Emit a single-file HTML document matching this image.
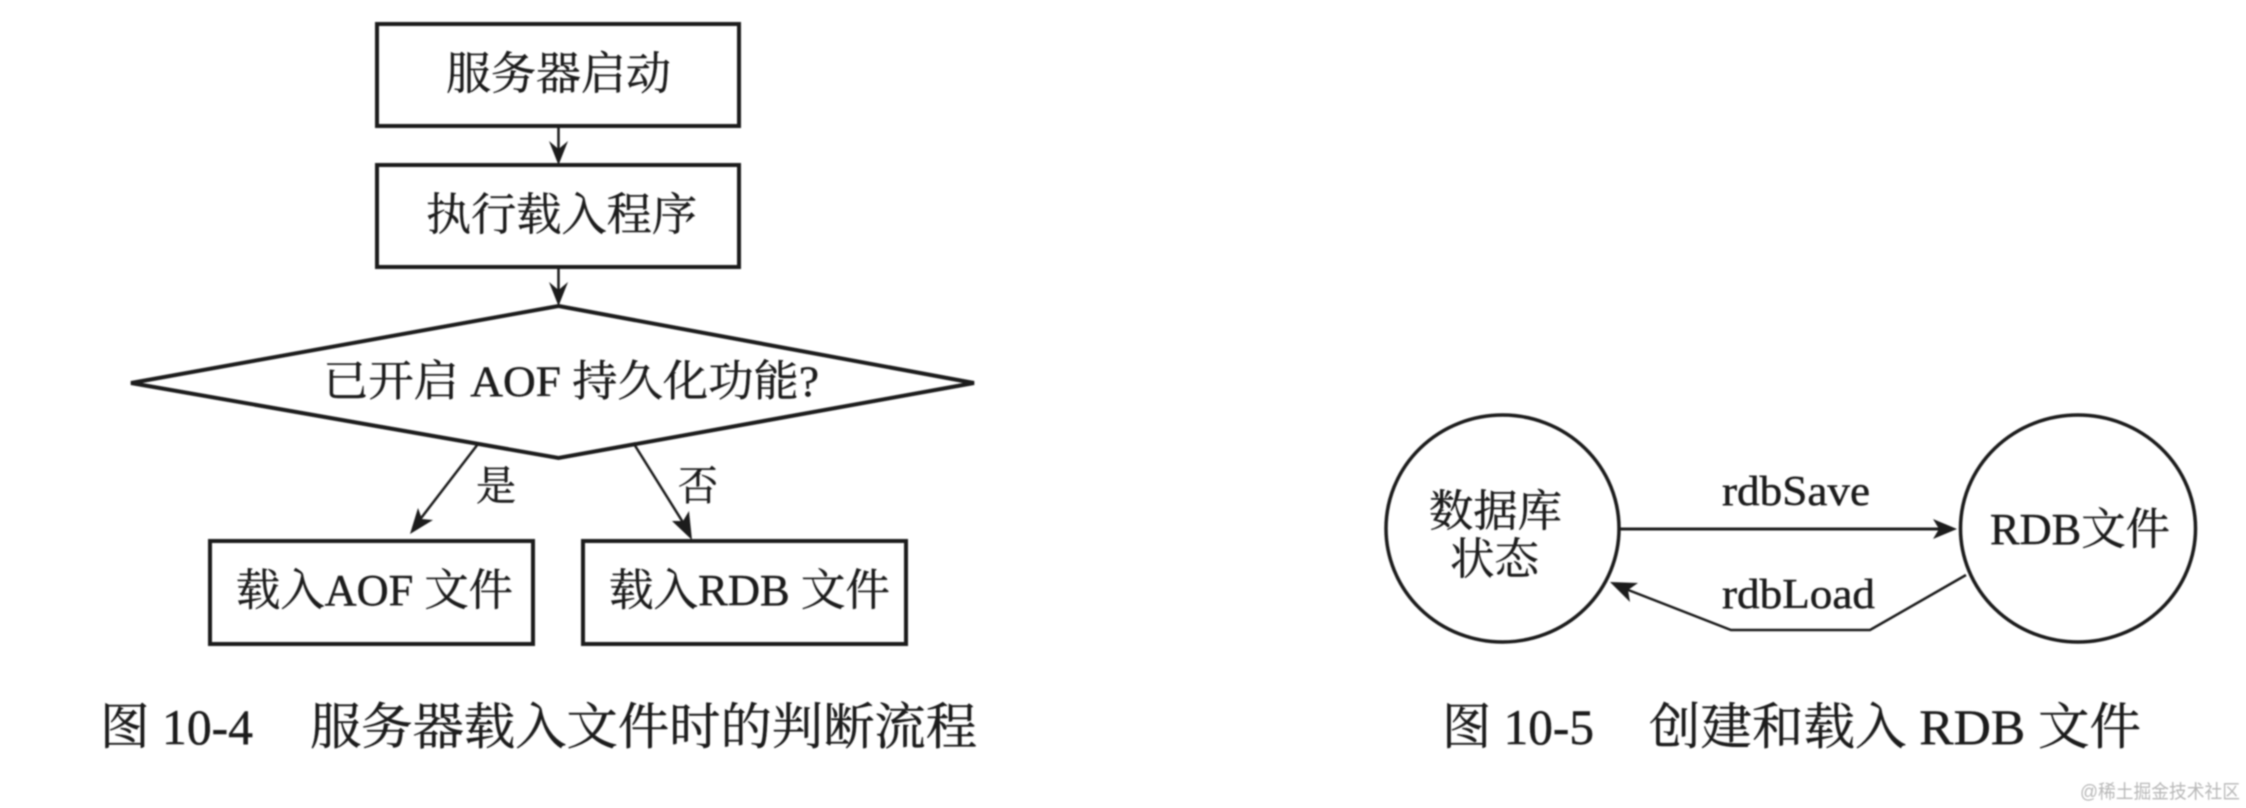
<!DOCTYPE html>
<html lang="zh">
<head>
<meta charset="utf-8">
<style>
html,body{margin:0;padding:0;background:#fff;width:2246px;height:808px;overflow:hidden}
svg{display:block}
text{font-family:"Liberation Serif","Noto Serif CJK SC",serif;fill:#1c1c1c;font-size:45px;stroke:#1c1c1c;stroke-width:.45px}
.s{fill:none;stroke:#1a1a1a}
.a{fill:#1a1a1a;stroke:none}
</style>
</head>
<body>
<svg width="2246" height="808" viewBox="0 0 2246 808" xmlns="http://www.w3.org/2000/svg">
<defs>
<filter id="b" x="-2%" y="-2%" width="104%" height="104%"><feGaussianBlur stdDeviation="0.9"/></filter>
<filter id="c" x="-5%" y="-20%" width="110%" height="140%"><feGaussianBlur stdDeviation="0.7"/></filter>
</defs>
<rect width="2246" height="808" fill="#fff"/>
<g filter="url(#b)">
<!-- flowchart shapes -->
<g transform="translate(-3,0)">
<rect class="s" stroke-width="4" x="380" y="24" width="362" height="102"/>
<rect class="s" stroke-width="4" x="380" y="165" width="362" height="102"/>
<polygon class="s" stroke-width="4" points="561.5,306 977,383 561.5,458 134,383"/>
<rect class="s" stroke-width="4" x="213" y="541" width="323" height="103"/>
<rect class="s" stroke-width="4" x="586" y="541" width="323" height="103"/>
<!-- flowchart arrows -->
<line class="s" stroke-width="2.5" x1="561.5" y1="126" x2="561.5" y2="160"/>
<polygon class="a" points="561.5,165 552,141 561.5,149 571,141"/>
<line class="s" stroke-width="2.5" x1="561.5" y1="267" x2="561.5" y2="301"/>
<polygon class="a" points="561.5,306 552,282 561.5,290 571,282"/>
<line class="s" stroke-width="2.5" x1="481" y1="444" x2="418" y2="526"/>
<polygon class="a" points="413,534 421,508 425,519 436,520"/>
<line class="s" stroke-width="2.5" x1="637" y1="444" x2="692" y2="532"/>
<polygon class="a" points="695,540 675,521 686,521 692,511"/>
</g>
<!-- flowchart labels -->
<text x="446" y="89" textLength="225" lengthAdjust="spacingAndGlyphs">服务器启动</text>
<text x="426" y="230" textLength="271" lengthAdjust="spacingAndGlyphs">执行载入程序</text>
<text x="323" y="396" textLength="496" lengthAdjust="spacingAndGlyphs" style="font-size:43px">已开启 AOF 持久化功能?</text>
<text x="476" y="500" textLength="40" lengthAdjust="spacingAndGlyphs" style="font-size:41px">是</text>
<text x="678" y="500" textLength="40" lengthAdjust="spacingAndGlyphs" style="font-size:41px">否</text>
<text x="236" y="605" textLength="277" lengthAdjust="spacingAndGlyphs" style="font-size:44px">载入AOF 文件</text>
<text x="609" y="605" textLength="281" lengthAdjust="spacingAndGlyphs" style="font-size:44px">载入RDB 文件</text>
<text x="100" y="744" textLength="153" lengthAdjust="spacingAndGlyphs" style="font-size:50px">图 10-4</text>
<text x="310" y="744" textLength="667" lengthAdjust="spacingAndGlyphs" style="font-size:50px">服务器载入文件时的判断流程</text>
<!-- right diagram -->
<ellipse class="s" stroke-width="3.5" cx="1502.5" cy="528.5" rx="116.5" ry="113.5"/>
<ellipse class="s" stroke-width="3.5" cx="2078" cy="528.5" rx="117.5" ry="113.5"/>
<line class="s" stroke-width="3" x1="1620" y1="529" x2="1950" y2="529"/>
<polygon class="a" points="1957,529 1933,519 1939,529 1933,539"/>
<polyline class="s" stroke-width="2.5" points="1966,575 1870,630 1731,630 1618,586"/>
<polygon class="a" points="1610,582 1638,583 1628,590 1630,602"/>
<text x="1722" y="505" textLength="148" lengthAdjust="spacingAndGlyphs" style="font-size:42px">rdbSave</text>
<text x="1722" y="608" textLength="153" lengthAdjust="spacingAndGlyphs" style="font-size:42px">rdbLoad</text>
<text x="1429" y="526" textLength="133" lengthAdjust="spacingAndGlyphs" style="font-size:44px">数据库</text>
<text x="1450" y="574" textLength="89" lengthAdjust="spacingAndGlyphs" style="font-size:44px">状态</text>
<text x="1990" y="544" textLength="180" lengthAdjust="spacingAndGlyphs" style="font-size:44px">RDB文件</text>
<text x="1442" y="744" textLength="152" lengthAdjust="spacingAndGlyphs" style="font-size:50px">图 10-5</text>
<text x="1649" y="744" textLength="492" lengthAdjust="spacingAndGlyphs" style="font-size:50px">创建和载入 RDB 文件</text>
</g>
<text x="2080" y="798" textLength="160" lengthAdjust="spacingAndGlyphs" filter="url(#c)" style="font-family:'Liberation Sans','Noto Sans CJK SC',sans-serif;font-size:19px;fill:#b8b8b8;stroke:none">@稀土掘金技术社区</text>
</svg>
</body>
</html>
